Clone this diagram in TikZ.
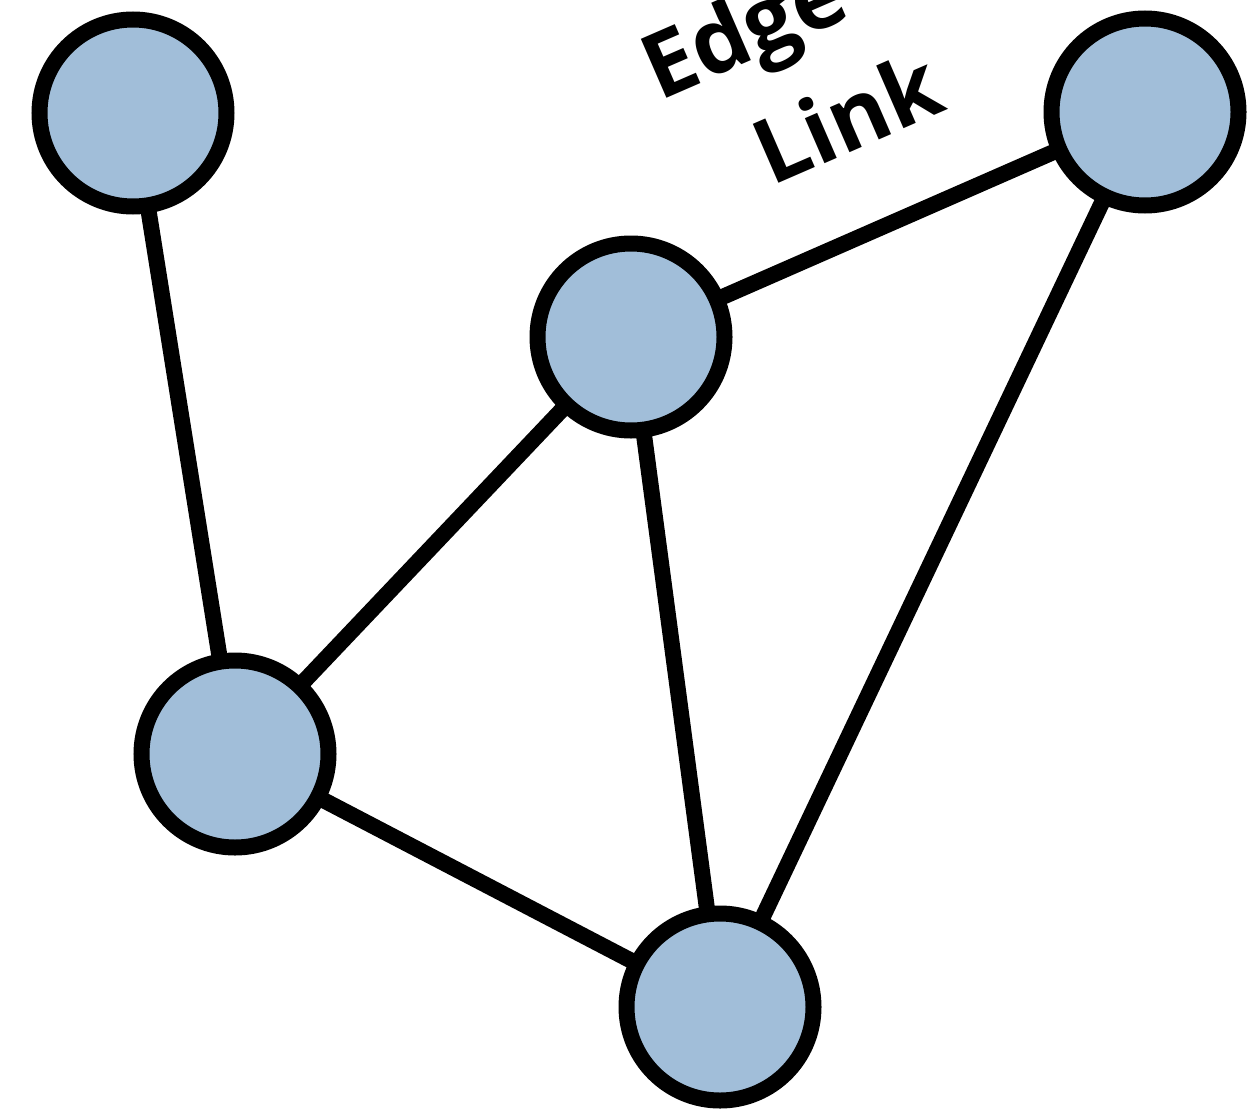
\documentclass[tikz,border=0pt]{standalone}
\usepackage{fontspec}
\newfontfamily\labelfont{Open Sans}
\definecolor{nodeblue}{RGB}{161,190,217}
\begin{document}
\begin{tikzpicture}[x=1pt,y=-1pt,
  vertex/.style={circle,draw=black,fill=nodeblue,line width=16pt,minimum size=187pt,inner sep=0pt},
  link/.style={line width=16pt,line cap=butt}]
\useasboundingbox (0,0) rectangle (1249,1108);
\begin{scope}
\clip (0,0) rectangle (1249,1108);
% edges first, so the circles sit on top
\coordinate (pa) at (133,113);
\coordinate (pb) at (1145,112);
\coordinate (pc) at (631,337);
\coordinate (pd) at (235,754);
\coordinate (pe) at (720,1007);
\draw[link] (pa) -- (pd);
\draw[link] (pc) -- (pb);
\draw[link] (pc) -- (pd);
\draw[link] (pc) -- (pe);
\draw[link] (pd) -- (pe);
\draw[link] (pb) -- (pe);
\node[vertex] (a) at (pa) {};
\node[vertex] (b) at (pb) {};
\node[vertex] (c) at (pc) {};
\node[vertex] (d) at (pd) {};
\node[vertex] (e) at (pe) {};
\node[rotate=23.5,align=center,inner sep=0pt,font=\labelfont\bfseries\fontsize{90}{123}\selectfont] (lbl) at (822,60) {Edge or\\Link};
\end{scope}
\end{tikzpicture}
\end{document}
